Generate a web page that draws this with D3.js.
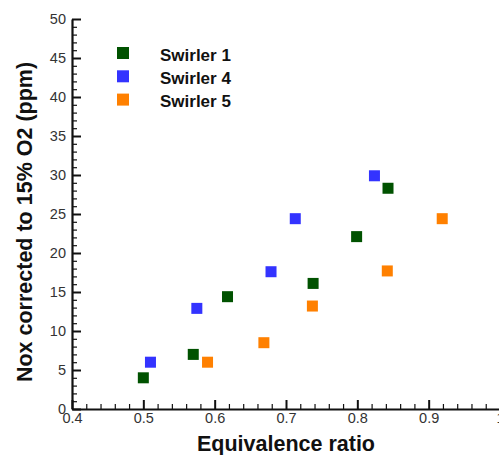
<!DOCTYPE html>
<html>
<head>
<meta charset="utf-8">
<script src="https://cdn.jsdelivr.net/npm/d3@7"></script>
<style>
  body { margin: 0; background: #fff; }
  svg { display: block; font-family: Arial, "Liberation Sans", sans-serif; }
  .axis path, .axis line { stroke: #111; }
  .axis text { fill: #333; font-size: 14.5px; }
</style>
</head>
<body>
<div id="chart"></div>
<script>
// series names and colours
var seriesNames = ['Swirler 1', 'Swirler 4', 'Swirler 5'];
var seriesColors = ['#005200', '#3333ff', '#ff8000'];

// equivalence ratio / NOx (ppm)
var swirler1X = [0.50, 0.57, 0.618, 0.738, 0.799, 0.843];
var swirler1Y = [4.0, 7.0, 14.4, 16.1, 22.1, 28.3];
var swirler4X = [0.51, 0.575, 0.679, 0.713, 0.824];
var swirler4Y = [6.0, 12.9, 17.6, 24.4, 29.9];
var swirler5X = [0.59, 0.669, 0.737, 0.842, 0.919];
var swirler5Y = [6.0, 8.5, 13.2, 17.7, 24.4];

// tick labels
var xTicks = [0.4, 0.5, 0.6, 0.7, 0.8, 0.9, 1.0];
var yTicks = [0, 5, 10, 15, 20, 25, 30, 35, 40, 45, 50];

var conf = {
    width: 499, height: 455,
    left: 72, right: 500, top: 19, bottom: 409,
    marker: 11, legendMarker: 12
};

var series = [
    { name: seriesNames[0], color: seriesColors[0], xs: swirler1X, ys: swirler1Y },
    { name: seriesNames[1], color: seriesColors[1], xs: swirler4X, ys: swirler4Y },
    { name: seriesNames[2], color: seriesColors[2], xs: swirler5X, ys: swirler5Y }
];

var svg = d3.select('#chart')
    .append('svg')
    .attr('width', conf.width)
    .attr('height', conf.height);

var x = d3.scaleLinear().domain([0.4, 1.0]).range([conf.left, conf.right]);
var y = d3.scaleLinear().domain([0, 50]).range([conf.bottom, conf.top]);

// minor ticks first, inward
var xMinor = d3.range(0.42, 1.0, 0.02).filter(function(v) {
    return Math.abs(v * 10 - Math.round(v * 10)) > 1e-6;
});
var yMinor = d3.range(1, 50, 1).filter(function(v) { return v % 5 !== 0; });

svg.append('g')
    .attr('class', 'axis')
    .attr('transform', 'translate(0,' + conf.bottom + ')')
    .call(d3.axisBottom(x).tickValues(xMinor).tickFormat('').tickSize(-5).tickSizeOuter(0))
    .call(function(g) { g.select('.domain').remove(); })
    .selectAll('line').attr('stroke-width', 1.2);

svg.append('g')
    .attr('class', 'axis')
    .attr('transform', 'translate(' + conf.left + ',0)')
    .call(d3.axisLeft(y).tickValues(yMinor).tickFormat('').tickSize(-5).tickSizeOuter(0))
    .call(function(g) { g.select('.domain').remove(); })
    .selectAll('line').attr('stroke-width', 1.2);

// major axes
var xAxis = svg.append('g')
    .attr('class', 'axis')
    .attr('transform', 'translate(0,' + conf.bottom + ')')
    .call(d3.axisBottom(x).tickValues(xTicks)
        .tickFormat(function(d) { return d === 1 ? '1' : d3.format('.1f')(d); })
        .tickSize(-9).tickSizeOuter(0).tickPadding(4));
xAxis.select('.domain').attr('stroke-width', 2.2);
xAxis.selectAll('line').attr('stroke-width', 2);

var yAxis = svg.append('g')
    .attr('class', 'axis')
    .attr('transform', 'translate(' + conf.left + ',0)')
    .call(d3.axisLeft(y).tickValues(yTicks).tickFormat(d3.format('d'))
        .tickSize(-9).tickSizeOuter(0).tickPadding(6));
yAxis.select('.domain').attr('stroke-width', 2.2);
yAxis.selectAll('line').attr('stroke-width', 2);
yAxis.selectAll('text').attr('x', -6);

// axis titles
svg.append('text')
    .attr('x', (conf.left + conf.right) / 2)
    .attr('y', 451)
    .attr('text-anchor', 'middle')
    .attr('font-size', 21.5)
    .attr('font-weight', 'bold')
    .attr('fill', '#111')
    .text('Equivalence ratio');

svg.append('text')
    .attr('transform', 'translate(32,' + 222 + ') rotate(-90)')
    .attr('text-anchor', 'middle')
    .attr('font-size', 21.5)
    .attr('font-weight', 'bold')
    .attr('fill', '#111')
    .text('Nox corrected to 15% O2 (ppm)');

// points
series.forEach(function(s) {
    var pts = s.xs.map(function(v, i) { return { x: v, y: s.ys[i] }; });
    svg.append('g').selectAll('rect')
        .data(pts).enter().append('rect')
        .attr('x', function(d) { return x(d.x) - conf.marker / 2; })
        .attr('y', function(d) { return y(d.y) - conf.marker / 2; })
        .attr('width', conf.marker)
        .attr('height', conf.marker)
        .attr('fill', s.color);
});

// legend
var legend = svg.append('g').selectAll('g')
    .data(series).enter().append('g')
    .attr('transform', function(d, i) { return 'translate(123,' + (53 + i * 23.3) + ')'; });

legend.append('rect')
    .attr('x', -conf.legendMarker / 2)
    .attr('y', -conf.legendMarker / 2)
    .attr('width', conf.legendMarker)
    .attr('height', conf.legendMarker)
    .attr('fill', function(d) { return d.color; });

legend.append('text')
    .attr('x', 37)
    .attr('y', 7.5)
    .attr('font-size', 17)
    .attr('font-weight', 'bold')
    .attr('fill', '#111')
    .text(function(d) { return d.name; });
</script>
</body>
</html>
